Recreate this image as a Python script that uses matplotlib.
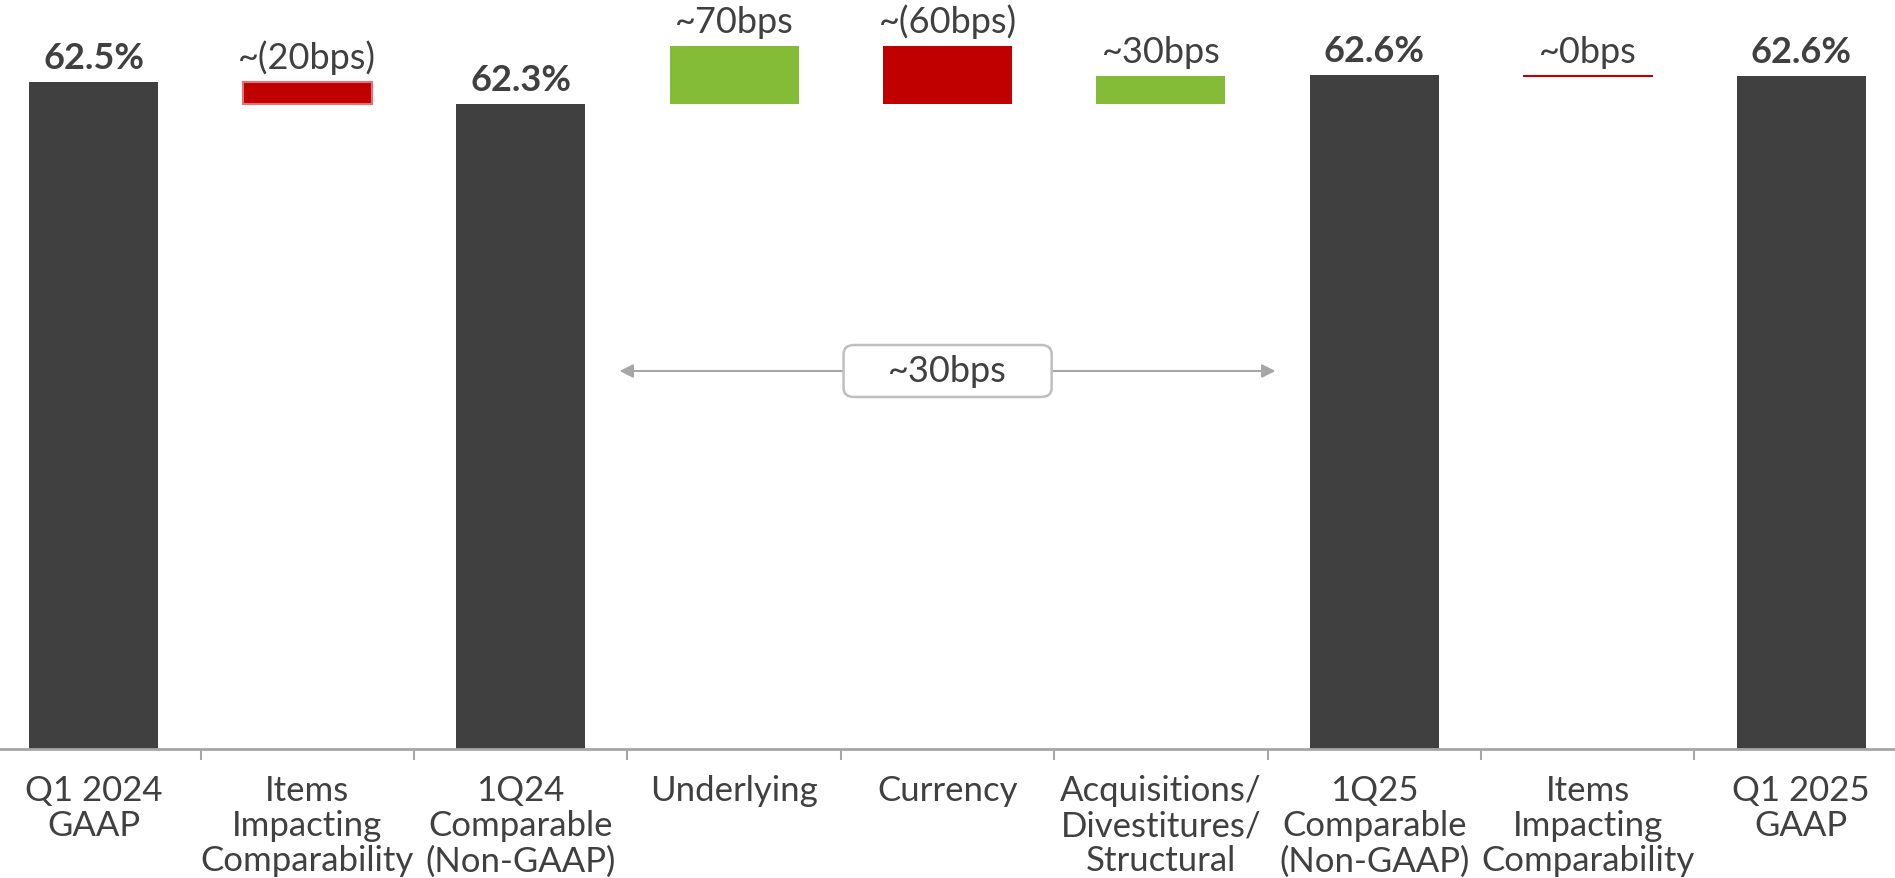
import matplotlib

matplotlib.use('Agg')
import matplotlib.pyplot as plt
from matplotlib.patches import FancyBboxPatch

# categories along the x axis
categories = ['Q1 2024\nGAAP', 'Items\nImpacting\nComparability', '1Q24\nComparable\n(Non-GAAP)',
              'Underlying', 'Currency', 'Acquisitions/\nDivestitures/\nStructural',
              '1Q25\nComparable\n(Non-GAAP)', 'Items\nImpacting\nComparability', 'Q1 2025\nGAAP']

# the slide is not drawn to scale, so bars keep their drawn levels (chart units)
bar_bottom = [0, 645, 0, 645, 645, 645, 0, 673, 0]
bar_top = [667, 667, 645, 703, 703, 673, 674, 673, 673]
bar_kind = ['total', 'down', 'total', 'up', 'down', 'up', 'total', 'down', 'total']
bar_labels = ['62.5%', '~(20bps)', '62.3%', '~70bps', '~(60bps)', '~30bps', '62.6%', '~0bps', '62.6%']

bracket_label = '~30bps'
bracket_span = (2.45, 5.55)
bracket_level = 378

DARK = '#404040'
RED = '#c00000'
GREEN = '#84bb37'
GREY = '#a6a6a6'
colors = {'total': DARK, 'down': RED, 'up': GREEN}

plt.rcParams['font.family'] = ['Lato', 'DejaVu Sans']

fig = plt.figure(figsize=(18.95, 8.79), dpi=100)
ax = fig.add_axes([0, 129 / 879, 1, 750 / 879])

x = list(range(len(categories)))
for i in x:
    h = bar_top[i] - bar_bottom[i]
    kind = bar_kind[i]
    if h == 0:
        # ~0bps shown as a thin line
        ax.plot([i - 0.3, i + 0.3], [bar_top[i], bar_top[i]], color=RED, lw=1.5)
        continue
    edge = '#e57373' if (kind == 'down' and h < 30) else colors[kind]
    ax.bar(i, h, bottom=bar_bottom[i], width=0.605, color=colors[kind],
           edgecolor=edge, linewidth=1.5 if edge != colors[kind] else 0)

for i in x:
    top = max(bar_top[i], bar_bottom[i])
    weight = 'bold' if bar_kind[i] == 'total' else 'normal'
    ax.text(i, top + 8, bar_labels[i], ha='center', va='bottom', fontsize=26,
            fontweight=weight, color=DARK)

# bracket arrow across the comparable bridge
mid = sum(bracket_span) / 2
ax.annotate('', xy=(bracket_span[0], bracket_level), xytext=(mid, bracket_level),
            arrowprops=dict(arrowstyle='-|>', color=GREY, lw=1.5, mutation_scale=20))
ax.annotate('', xy=(bracket_span[1], bracket_level), xytext=(mid, bracket_level),
            arrowprops=dict(arrowstyle='-|>', color=GREY, lw=1.5, mutation_scale=20))
box = FancyBboxPatch((mid - 0.487, bracket_level - 26), 0.975, 52,
                     boxstyle='round,pad=0,rounding_size=0.05', mutation_aspect=180,
                     facecolor='white', edgecolor='#bfbfbf', lw=1.8, zorder=3)
ax.add_patch(box)
ax.text(mid, bracket_level, bracket_label, ha='center', va='center', fontsize=26,
        color=DARK, zorder=4)

ax.set_xlim(-0.44, len(categories) - 1 + 0.44)
ax.set_ylim(0, 750)
for s in ['top', 'left', 'right']:
    ax.spines[s].set_visible(False)
ax.spines['bottom'].set_color(GREY)
ax.spines['bottom'].set_linewidth(2)
ax.set_yticks([])
ax.set_xticks(x)
ax.set_xticklabels(categories, fontsize=25, color=DARK, linespacing=1.12, va='top')
ax.tick_params(axis='x', which='major', length=0, pad=18)
ax.set_xticks([i + 0.5 for i in x[:-1]], minor=True)
ax.tick_params(axis='x', which='minor', length=8, width=1.5, color=GREY)

fig.savefig('out.png', dpi=100)
